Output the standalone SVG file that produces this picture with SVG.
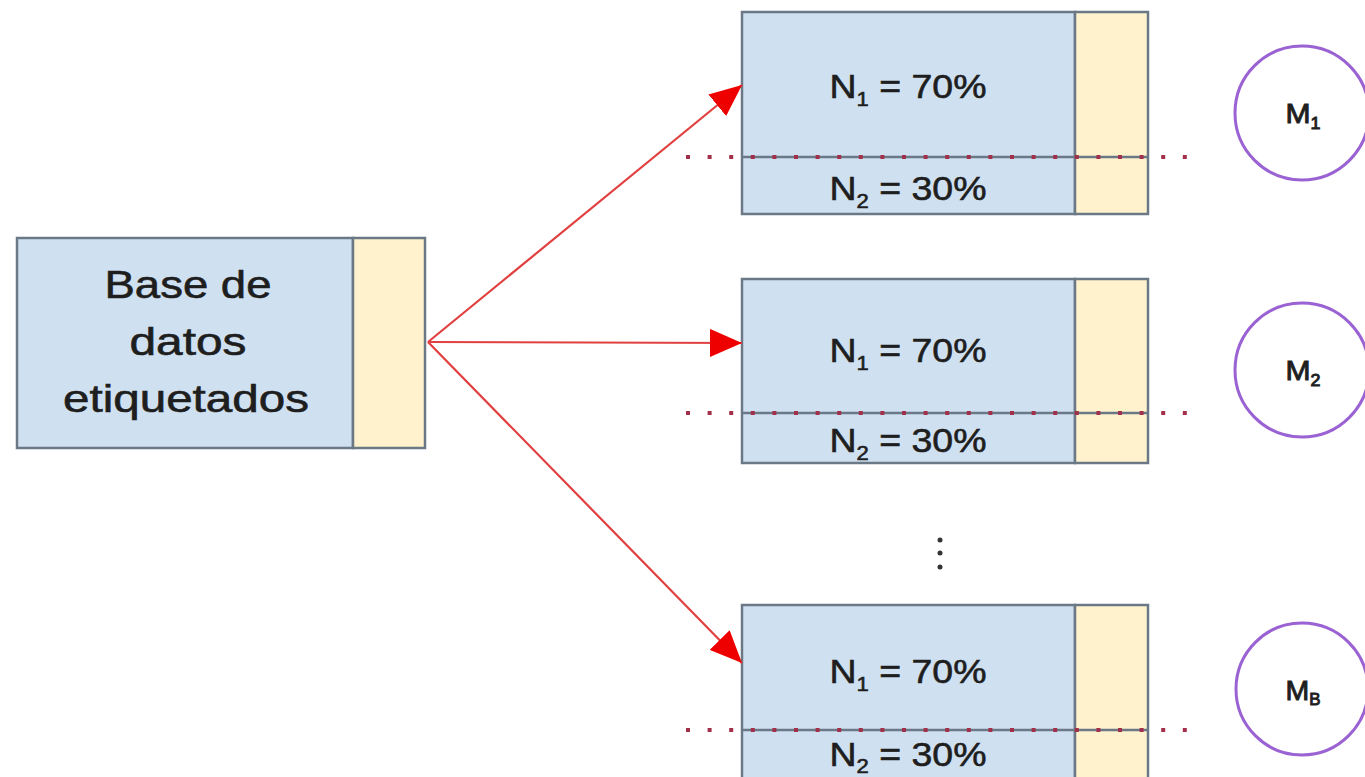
<svg xmlns="http://www.w3.org/2000/svg" width="1365" height="777" viewBox="0 0 1365 777">
<style>
.blue{fill:#cfe0f1;stroke:#6b7886;stroke-width:2.5}
.yel{fill:#fff2cc;stroke:#6b7886;stroke-width:2.5}
.split{stroke:#6b7886;stroke-width:2.5}
.dots{stroke:#a3304a;stroke-width:4;stroke-dasharray:4 17.6;fill:none}
.t{font-family:"Liberation Sans",Arial,sans-serif;fill:#1e1e1e;stroke:#1e1e1e;stroke-width:0.6;text-anchor:middle}
.n{font-size:34px}
.big{font-size:38px}
.m{font-size:27px;stroke-width:0.9}
.circ{fill:#ffffff;stroke:#9a62d2;stroke-width:3}
.arr{stroke:#e0403f;stroke-width:2.2;fill:none;marker-end:url(#ah)}
</style>
<defs>
<marker id="ah" markerUnits="userSpaceOnUse" markerWidth="32" markerHeight="28" refX="32" refY="14" orient="auto">
<path d="M0,0 L32,14 L0,28 z" fill="#ee0000"/>
</marker>
</defs>
<rect width="1365" height="777" fill="#ffffff"/>

<g id="base">
<rect class="blue" x="17" y="238" width="336" height="210"/>
<rect class="yel" x="353" y="238" width="72" height="210"/>
<text class="t big" x="188" y="298" textLength="167" lengthAdjust="spacingAndGlyphs">Base de</text>
<text class="t big" x="188" y="355" textLength="117" lengthAdjust="spacingAndGlyphs">datos</text>
<text class="t big" x="186" y="412" textLength="246" lengthAdjust="spacingAndGlyphs">etiquetados</text>
</g>

<g id="split1">
<rect class="blue" x="742" y="12" width="333" height="202"/>
<rect class="yel" x="1075" y="12" width="73" height="202"/>
<line class="split" x1="742" y1="157" x2="1148" y2="157"/>
<line class="dots" x1="686" y1="157" x2="1195" y2="157"/>
<text class="t n" x="908" y="98" textLength="157" lengthAdjust="spacingAndGlyphs">N<tspan font-size="20" dy="8">1</tspan><tspan dy="-8"> = 70%</tspan></text>
<text class="t n" x="908" y="200" textLength="157" lengthAdjust="spacingAndGlyphs">N<tspan font-size="20" dy="8">2</tspan><tspan dy="-8"> = 30%</tspan></text>
</g>

<g id="split2">
<rect class="blue" x="742" y="279" width="333" height="184"/>
<rect class="yel" x="1075" y="279" width="73" height="184"/>
<line class="split" x1="742" y1="413" x2="1148" y2="413"/>
<line class="dots" x1="686" y1="413" x2="1195" y2="413"/>
<text class="t n" x="908" y="362" textLength="157" lengthAdjust="spacingAndGlyphs">N<tspan font-size="20" dy="8">1</tspan><tspan dy="-8"> = 70%</tspan></text>
<text class="t n" x="908" y="452" textLength="157" lengthAdjust="spacingAndGlyphs">N<tspan font-size="20" dy="8">2</tspan><tspan dy="-8"> = 30%</tspan></text>
</g>

<g id="splitB">
<rect class="blue" x="742" y="605" width="333" height="185"/>
<rect class="yel" x="1075" y="605" width="73" height="185"/>
<line class="split" x1="742" y1="730" x2="1148" y2="730"/>
<line class="dots" x1="686" y1="730" x2="1195" y2="730"/>
<text class="t n" x="908" y="683" textLength="157" lengthAdjust="spacingAndGlyphs">N<tspan font-size="20" dy="8">1</tspan><tspan dy="-8"> = 70%</tspan></text>
<text class="t n" x="908" y="766" textLength="157" lengthAdjust="spacingAndGlyphs">N<tspan font-size="20" dy="7">2</tspan><tspan dy="-7"> = 30%</tspan></text>
</g>

<g id="ellipsis" fill="#333">
<circle cx="940" cy="540" r="2.5"/>
<circle cx="940" cy="553" r="2.5"/>
<circle cx="940" cy="567" r="2.5"/>
</g>

<g id="model1">
<circle class="circ" cx="1302" cy="113" r="67"/>
<text class="t m" x="1303" y="123" textLength="35" lengthAdjust="spacingAndGlyphs">M<tspan font-size="16" dy="6">1</tspan></text>
</g>
<g id="model2">
<circle class="circ" cx="1302" cy="370" r="67"/>
<text class="t m" x="1303" y="380" textLength="35" lengthAdjust="spacingAndGlyphs">M<tspan font-size="16" dy="6">2</tspan></text>
</g>
<g id="modelB">
<circle class="circ" cx="1302" cy="689" r="66"/>
<text class="t m" x="1303" y="700" textLength="35" lengthAdjust="spacingAndGlyphs">M<tspan font-size="16" dy="5">B</tspan></text>
</g>

<g id="connectors">
<line class="arr" x1="428" y1="342" x2="742" y2="85"/>
<line class="arr" x1="428" y1="342" x2="742" y2="343"/>
<line class="arr" x1="428" y1="342" x2="742" y2="663"/>
</g>
</svg>
